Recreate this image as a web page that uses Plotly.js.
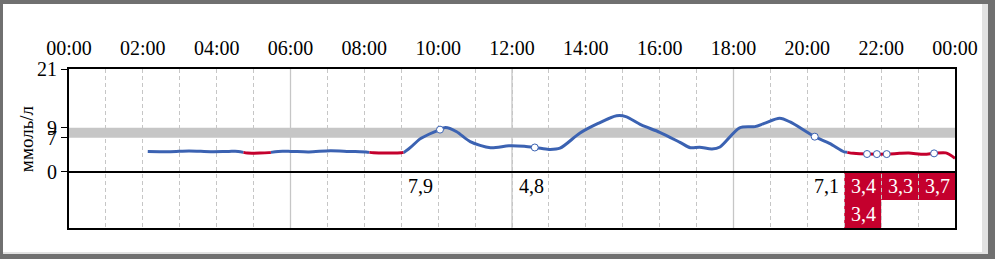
<!DOCTYPE html>
<html>
<head>
<meta charset="utf-8">
<script src="https://cdn.plot.ly/plotly-3.0.1.min.js"></script>
<style>
  html, body { margin:0; padding:0; background:#707070; width:995px; height:259px; overflow:hidden; }
  #frame { position:absolute; left:3px; top:4px; width:985px; height:250px; background:#e2e2e2; }
  #chart { position:absolute; left:0px; top:0px; width:979px; height:248px; background:#fff; }
</style>
</head>
<body>
<div id="frame"><div id="chart"></div></div>
<script>
// ---- data ----
const timeTickLabels = ['00:00','02:00','04:00','06:00','08:00','10:00','12:00','14:00','16:00','18:00','20:00','22:00','00:00'];
const yTickValues = [0, 7, 9, 21];
const targetRange = [7, 9];
const lowThreshold = 4;
const solidGridHours = [6, 12, 18];

const cgmTimes = ['02:08','02:45','03:15','03:50','04:20','04:35','04:50','05:10','05:25','05:40',
  '06:00','06:30','07:05','07:35','08:05','08:15','08:40','09:00','09:05','09:15','09:30','09:45',
  '10:00','10:12','10:30','10:52','11:25','11:55','12:20','12:40','13:00','13:18','13:50','14:20',
  '14:50','15:05','15:30','16:00','16:33','16:50','17:05','17:25','17:38','18:10','18:35','18:50',
  '19:15','19:32','20:12','20:36','21:00','21:15','21:40','22:10','22:30','22:45','23:10','23:26',
  '23:45','24:00'];
const cgmValues = [4.2,4.15,4.3,4.15,4.2,4.2,3.85,3.85,3.95,4.2,
  4.2,4.1,4.35,4.2,4.05,3.9,3.85,3.9,4.05,5.0,6.7,7.7,
  8.5,9.05,8.2,6.2,4.95,5.35,5.25,4.95,4.6,4.85,7.9,9.9,
  11.45,11.3,9.6,8.1,6.05,4.95,5.05,4.7,5.1,9.0,9.25,9.9,
  10.95,10.2,7.2,5.85,4.1,3.8,3.65,3.65,3.8,3.85,3.6,3.8,
  3.9,2.8];

const readingTimes  = ['10:03','12:37','20:12','21:37','21:53','22:09','23:26'];
const readingValues = [7.9, 4.8, 7.1, 3.4, 3.4, 3.3, 3.7];
const readingCells  = [9, 12, 20, 21, 21, 22, 23];

// ---- helpers ----
const toH = s => { const [h, m] = s.split(':').map(Number); return h + m / 60; };
const cgmX = cgmTimes.map(toH);
const interp = x => {
  for (let i = 0; i < cgmX.length - 1; i++) {
    if (x >= cgmX[i] && x <= cgmX[i + 1]) {
      const t = (x - cgmX[i]) / (cgmX[i + 1] - cgmX[i]);
      return cgmValues[i] + t * (cgmValues[i + 1] - cgmValues[i]);
    }
  }
  return null;
};

// split curve into normal (blue) and low (red) pieces
const blue = {x: [], y: []}, red = {x: [], y: []};
function push(tr, x, y) { tr.x.push(x); tr.y.push(y); }
for (let i = 0; i < cgmX.length; i++) {
  const v = cgmValues[i], low = v < lowThreshold;
  if (i > 0) {
    const pv = cgmValues[i - 1], plow = pv < lowThreshold;
    if (plow !== low) {
      const t = (lowThreshold - pv) / (v - pv);
      const cx = cgmX[i - 1] + t * (cgmX[i] - cgmX[i - 1]);
      push(plow ? red : blue, cx, lowThreshold);
      push(plow ? red : blue, null, null);
      push(low ? red : blue, cx, lowThreshold);
    }
  }
  push(low ? red : blue, cgmX[i], v);
}

const rowCount = 2;
const rowH = 11.42 / rowCount;
const font = 'Liberation Serif, Times New Roman, serif';
const lowColor = '#c4002d';
const blueColor = '#3b62b2';
const gridColor = '#c6c6c6';

const shapes = [];
const annotations = [];
// target band
shapes.push({type:'rect', xref:'paper', x0:0, x1:1, yref:'y', y0:targetRange[0], y1:targetRange[1],
  fillcolor:'#c6c6c6', line:{width:0}, layer:'between'});
// solid grid lines
solidGridHours.forEach(h => shapes.push({type:'line', xref:'x', x0:h, x1:h, yref:'paper', y0:0, y1:1,
  line:{color:gridColor, width:1.3}, layer:'below'}));

// reading table
const cellRows = {};
readingValues.forEach((v, i) => {
  const c = readingCells[i];
  const r = cellRows[c] || 0; cellRows[c] = r + 1;
  const low = v < lowThreshold;
  if (low) {
    shapes.push({type:'rect', xref:'x', x0:c, x1:c + 1, yref:'y', y0:-r * rowH, y1:-(r + 1) * rowH,
      fillcolor:lowColor, line:{width:0}, layer:'below'});
  }
  annotations.push({xref:'x', x:c + 1, xanchor:'right', xshift:-3, yref:'y', y:-(r + 0.5) * rowH,
    yanchor:'middle', showarrow:false, text:v.toFixed(1).replace('.', ','),
    font:{family:font, size:20, color: low ? '#ffffff' : '#000000'}});
});
// y title
annotations.push({xref:'paper', x:0, xshift:-43, xanchor:'center', yref:'y', y:6.7, yanchor:'middle',
  textangle:-90, showarrow:false, text:'ммоль/л', font:{family:font, size:19, color:'#000'}});

const readingX = readingTimes.map(toH);
const traces = [
  {x: blue.x, y: blue.y, mode:'lines', line:{color:blueColor, width:3, shape:'spline', smoothing:0.8},
    connectgaps:false, hoverinfo:'skip'},
  {x: red.x, y: red.y, mode:'lines', line:{color:lowColor, width:3, shape:'spline', smoothing:0.8},
    connectgaps:false, hoverinfo:'skip'},
  {x: readingX, y: readingX.map(interp), mode:'markers',
    marker:{size:7, color:'#ffffff', line:{color:blueColor, width:1}}, hoverinfo:'skip'}
];

const layout = {
  width:979, height:248,
  margin:{l:66, r:27, t:65, b:24, pad:0},
  paper_bgcolor:'#ffffff', plot_bgcolor:'#ffffff',
  showlegend:false,
  font:{family:font, size:20, color:'#000'},
  xaxis:{range:[0, 24], side:'top', tickmode:'array',
    tickvals: timeTickLabels.map((_, i) => i * 2), ticktext: timeTickLabels,
    ticks:'', ticklabelstandoff:4, tickfont:{family:font, size:20, color:'#000'},
    showgrid:true, gridcolor:gridColor, griddash:'4px,3px', gridwidth:1,
    minor:{tickmode:'linear', tick0:0, dtick:1, showgrid:true, gridcolor:gridColor, griddash:'4px,3px', gridwidth:1},
    showline:true, linecolor:'#000', linewidth:2, mirror:true, zeroline:false, fixedrange:true},
  yaxis:{range:[-rowCount * rowH, 21], tickmode:'array', tickvals:yTickValues,
    ticks:'outside', ticklen:6, tickcolor:'#000', tickwidth:1,
    tickfont:{family:font, size:20, color:'#000'},
    showgrid:false, zeroline:true, zerolinecolor:'#000', zerolinewidth:2,
    showline:true, linecolor:'#000', linewidth:2, mirror:true, fixedrange:true},
  shapes, annotations
};

Plotly.newPlot('chart', traces, layout, {displayModeBar:false, staticPlot:true});
</script>
</body>
</html>
